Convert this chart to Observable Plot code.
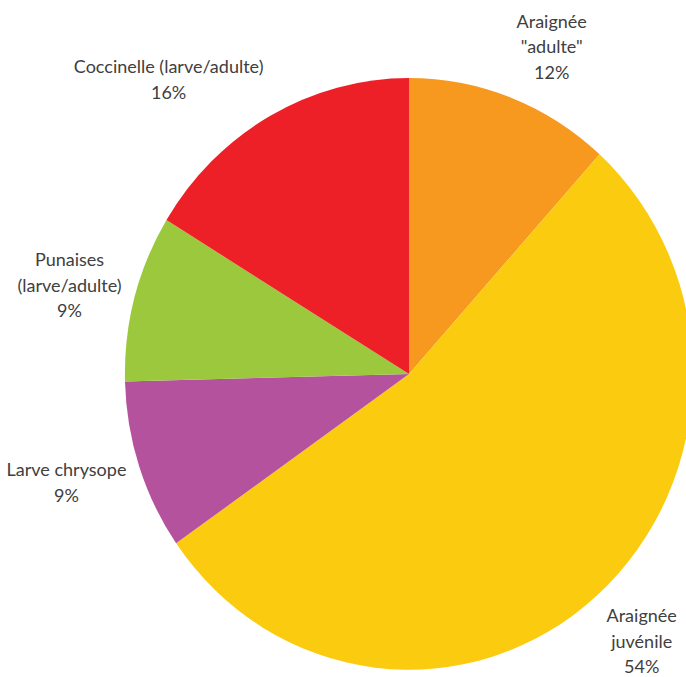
<!DOCTYPE html>
<html><head><meta charset="utf-8">
<script src="https://cdn.jsdelivr.net/npm/d3@7"></script>
<script src="https://cdn.jsdelivr.net/npm/@observablehq/plot@0.6"></script>
<style>html,body{margin:0;padding:0;background:#fff;overflow:hidden}</style>
</head><body><div id="chart"></div>
<script>
// ---- data ----
const categories = ["Araignée \"adulte\"", "Araignée juvénile", "Larve chrysope", "Punaises (larve/adulte)", "Coccinelle (larve/adulte)"];
const labelLines = [["Araignée", "\"adulte\""], ["Araignée", "juvénile"], ["Larve chrysope"], ["Punaises", "(larve/adulte)"], ["Coccinelle (larve/adulte)"]];
const values = [11.7, 53.6, 9.3, 9.1, 16.3];
const palette = ["#F7991F", "#FBCB10", "#B5529E", "#9BC83D", "#EE2027"];

// ---- layout / style ----
const W = 686, H = 677;
const CX = 409, CY = 374, RX = 284, RY = 296;
const FONT = "Lato, Carlito, Calibri, sans-serif";
const FS = 18, LH = 25.5, GAPX = 14, GAPY = 19;

const total = d3.sum(values);
const data = categories.map((c, i) => ({category: c, value: values[i], lines: labelLines[i]}));
const arcs = d3.pie().sort(null).value(d => d.value)(data);
const color = d3.scaleOrdinal(categories, palette);
const arcGen = d3.arc().innerRadius(0).outerRadius(1);

function pieMark(index, scales) {
  const {x, y} = scales;
  const cx = x(0), cy = y(0), sx = x(1) - x(0), sy = y(-1) - y(0);
  const g = d3.create("svg:g").attr("transform", `translate(${cx},${cy}) scale(${sx},${sy})`);
  g.selectAll("path").data(arcs).join("path")
    .attr("d", arcGen)
    .attr("fill", d => color(d.data.category));
  return g.node();
}

const ctx = document.createElement("canvas").getContext("2d");
ctx.font = `${FS}px ${FONT}`;

const labelMarks = arcs.map(a => {
  const mid = (a.startAngle + a.endAngle) / 2;
  const ux = Math.sin(mid), uy = Math.cos(mid);
  const pct = Math.round(a.data.value / total * 100) + "%";
  const lines = [...a.data.lines, pct];
  const w = d3.max(lines, l => ctx.measureText(l).width);
  const h = lines.length * LH;
  const dirx = Math.sin(mid), diry = -Math.cos(mid);
  const dx = dirx * GAPX + Math.sign(dirx) * w / 2;
  const dy = diry * (GAPY + h / 2);
  return Plot.text([{x: ux, y: uy, text: lines.join("\n")}], {
    x: "x", y: "y", text: "text", dx, dy,
    textAnchor: "middle", lineAnchor: "middle",
    lineHeight: LH / FS, fontSize: FS, fill: "#404040"
  });
});

const chart = Plot.plot({
  width: W, height: H, margin: 0,
  style: {fontFamily: FONT, background: "#fff"},
  x: {domain: [-1, 1], range: [CX - RX, CX + RX], axis: null},
  y: {domain: [-1, 1], range: [CY + RY, CY - RY], axis: null},
  marks: [pieMark, ...labelMarks]
});
document.getElementById("chart").appendChild(chart);
</script>
</body></html>
